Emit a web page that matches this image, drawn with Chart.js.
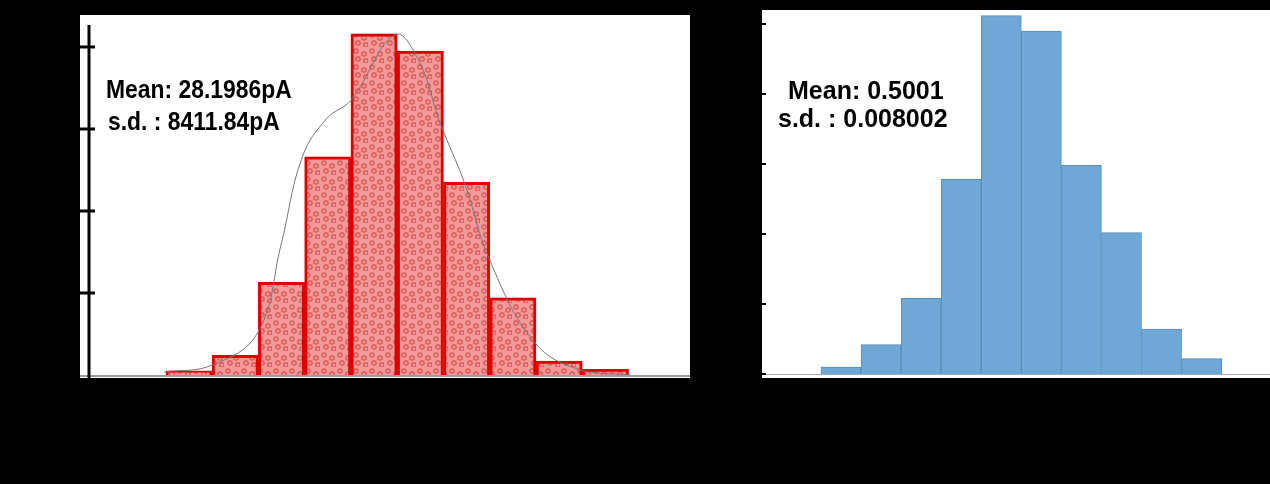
<!DOCTYPE html>
<html>
<head>
<meta charset="utf-8">
<script src="https://cdn.jsdelivr.net/npm/chart.js@4"></script>
<style>
  body { margin: 0; background: #000; width: 1270px; height: 484px; overflow: hidden; position: relative; }
  .box { position: absolute; background: #fff; }
  #leftBox { left: 80px; top: 15px; width: 610px; height: 363px; }
  #rightBox { left: 762px; top: 10px; width: 508px; height: 368px; }
  canvas { display: block; }
  .note { position: absolute; font-family: "Liberation Sans", Arial, sans-serif; font-weight: bold; font-size: 26px; color: #000; white-space: nowrap; }
</style>
</head>
<body>
<div class="box" id="leftBox"><canvas id="left" width="610" height="363"></canvas></div>
<div class="box" id="rightBox"><canvas id="right" width="508" height="368"></canvas></div>
<div class="note" style="left:106px;top:74px;transform:scaleX(0.88);transform-origin:left">Mean: 28.1986pA</div>
<div class="note" style="left:108px;top:106px;transform:scaleX(0.88);transform-origin:left">s.d. : 8411.84pA</div>
<div class="note" style="left:788px;top:76px;font-size:25px">Mean: 0.5001</div>
<div class="note" style="left:778px;top:104px;font-size:25px">s.d. : 0.008002</div>
<script>
// left histogram (bin index -> count)
var leftBins = [0.5, 1.5, 2.5, 3.5, 4.5, 5.5, 6.5, 7.5, 8.5, 9.5];
var leftCounts = [5, 24, 113, 266, 416, 395, 235, 94, 17, 7];
// fitted curve
var curveX = [-0.04, 1, 1.98, 2.49, 2.95, 3.48, 4.0, 4.95, 5.46, 5.93, 6.45, 7.0, 7.98, 8.97, 10.04];
var curveY = [3.7, 12, 51, 159, 266, 313, 335, 415, 384, 307, 235, 140, 39, 6, 0];
// right histogram
var rightBins = [0.5, 1.5, 2.5, 3.5, 4.5, 5.5, 6.5, 7.5, 8.5, 9.5];
var rightCounts = [5, 21, 54, 139, 256, 245, 149, 101, 32, 11];
var rightTicks = [0, 50, 100, 150, 200, 250];

function dotPattern() {
  var c = document.createElement('canvas');
  c.width = 16; c.height = 16;
  var g = c.getContext('2d');
  g.fillStyle = '#f29a9a';
  g.fillRect(0, 0, 16, 16);
  g.strokeStyle = 'rgba(215,60,60,0.8)';
  g.lineWidth = 1.2;
  [[4, 4], [12, 7], [6, 12], [14, 14]].forEach(function (p) {
    g.beginPath(); g.arc(p[0], p[1], 2.2, 0, Math.PI * 2); g.stroke();
  });
  return g.createPattern(c, 'repeat');
}

var leftAxis = {
  id: 'leftAxis',
  afterDraw: function (chart) {
    var ctx = chart.ctx, y = chart.scales.y;
    ctx.save();
    ctx.strokeStyle = '#999'; ctx.lineWidth = 2;
    ctx.beginPath(); ctx.moveTo(0, y.getPixelForValue(0) + 1); ctx.lineTo(610, y.getPixelForValue(0) + 1); ctx.stroke();
    ctx.strokeStyle = '#000'; ctx.lineWidth = 3;
    ctx.beginPath(); ctx.moveTo(9, 10); ctx.lineTo(9, 363); ctx.stroke();
    [100, 200, 300, 400].forEach(function (v) {
      var py = y.getPixelForValue(v);
      ctx.beginPath(); ctx.moveTo(0, py); ctx.lineTo(15, py); ctx.stroke();
    });
    ctx.restore();
  }
};

new Chart(document.getElementById('left'), {
  data: {
    datasets: [{
      type: 'bar',
      data: leftBins.map(function (b, i) { return { x: b, y: leftCounts[i] }; }),
      backgroundColor: dotPattern(),
      borderColor: '#e00000',
      borderWidth: 3,
      barPercentage: 1, categoryPercentage: 1,
      order: 2
    }, {
      type: 'line',
      data: curveX.map(function (x, i) { return { x: x, y: curveY[i] }; }),
      borderColor: '#777', borderWidth: 1, pointRadius: 0, tension: 0.4,
      order: 1
    }]
  },
  options: {
    responsive: false, animation: false,
    layout: { padding: { bottom: 3 } },
    plugins: { legend: { display: false }, tooltip: { enabled: false } },
    scales: {
      x: { type: 'linear', min: -0.757, max: 10.23, display: false },
      y: { min: 0, max: 439, display: false }
    }
  },
  plugins: [leftAxis]
});

var rightAxis = {
  id: 'rightAxis',
  afterDraw: function (chart) {
    var ctx = chart.ctx, y = chart.scales.y;
    ctx.save();
    ctx.strokeStyle = '#aaa'; ctx.lineWidth = 1;
    ctx.beginPath(); ctx.moveTo(0, y.getPixelForValue(0) + 0.5); ctx.lineTo(508, y.getPixelForValue(0) + 0.5); ctx.stroke();
    ctx.strokeStyle = '#000'; ctx.lineWidth = 2;
    rightTicks.forEach(function (v) {
      var py = y.getPixelForValue(v);
      ctx.beginPath(); ctx.moveTo(0, py); ctx.lineTo(4, py); ctx.stroke();
    });
    ctx.restore();
  }
};

new Chart(document.getElementById('right'), {
  type: 'bar',
  data: {
    datasets: [{
      data: rightBins.map(function (b, i) { return { x: b, y: rightCounts[i] }; }),
      backgroundColor: '#6fa8d7',
      borderColor: '#5a8cb8',
      borderWidth: 1,
      barPercentage: 1, categoryPercentage: 1
    }]
  },
  options: {
    responsive: false, animation: false,
    layout: { padding: { bottom: 4 } },
    plugins: { legend: { display: false }, tooltip: { enabled: false } },
    scales: {
      x: { type: 'linear', min: -0.416, max: 10.15, display: false },
      y: { min: 0, max: 260, display: false }
    }
  },
  plugins: [rightAxis]
});
</script>
</body>
</html>
